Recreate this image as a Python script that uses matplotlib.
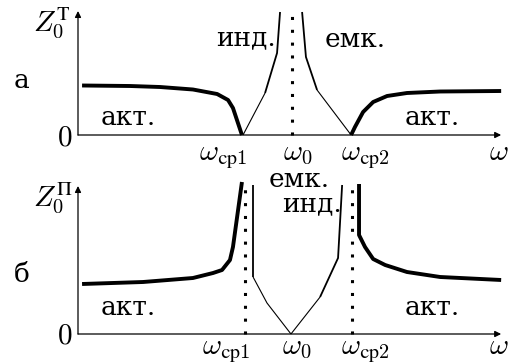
import matplotlib
matplotlib.use("Agg")
import matplotlib.pyplot as plt

plt.rcParams['mathtext.fontset'] = 'cm'
plt.rcParams['font.family'] = ['DejaVu Serif']

FS = 19
MFS = 21

# --- panel а: T-section characteristic impedance ---
t_act1_w = [0.019, 0.243, 0.383, 0.537, 0.650, 0.701, 0.724, 0.766]
t_act1_z = [0.99, 0.98, 0.96, 0.91, 0.82, 0.70, 0.54, 0.0]
t_ind_w = [0.771, 0.874, 0.930, 0.944]
t_ind_z = [0.0, 0.84, 1.64, 2.46]
t_cap_w = [1.047, 1.065, 1.117, 1.276]
t_cap_z = [2.46, 1.56, 0.90, 0.0]
t_act2_w = [1.276, 1.294, 1.332, 1.379, 1.444, 1.537, 1.692, 1.977]
t_act2_z = [0.0, 0.16, 0.46, 0.66, 0.78, 0.84, 0.87, 0.88]
t_marks = [0.766, 1.0, 1.276]

# --- panel б: П-section characteristic impedance ---
p_act1_w = [0.019, 0.304, 0.537, 0.631, 0.673, 0.710, 0.724, 0.766]
p_act1_z = [1.0, 1.04, 1.12, 1.22, 1.28, 1.48, 1.74, 3.04]
p_cap_w = [0.818, 0.818, 0.883, 0.995]
p_cap_z = [2.98, 1.14, 0.62, 0.0]
p_ind_w = [0.995, 1.131, 1.215, 1.234]
p_ind_z = [0.0, 0.74, 1.52, 2.98]
p_act2_w = [1.313, 1.313, 1.341, 1.379, 1.435, 1.537, 1.692, 1.977]
p_act2_z = [3.0, 1.98, 1.74, 1.50, 1.38, 1.24, 1.14, 1.08]
p_marks = [0.780, 0.995, 1.280]

tick_labels = [r'$\omega_{\mathrm{ср1}}$', r'$\omega_0$', r'$\omega_{\mathrm{ср2}}$']

fig = plt.figure(figsize=(5.12, 3.64), dpi=100)
ax1 = fig.add_axes([78 / 512, 229 / 364, 427 / 512, 125 / 364])
ax2 = fig.add_axes([78 / 512, 30 / 364, 427 / 512, 153 / 364])
ax1.set_xlim(0, 1.995)
ax1.set_ylim(0, 2.5)
ax2.set_xlim(0, 1.995)
ax2.set_ylim(0, 3.06)

THICK = 2.8
THIN = 0.8


def frame(ax, ytop):
    ax.set_axis_off()
    arrow = dict(arrowstyle='-|>', lw=0.9, color='k', mutation_scale=9,
                 shrinkA=0, shrinkB=0)
    ax.annotate('', xy=(1.977, 0), xytext=(0, 0), arrowprops=arrow,
                annotation_clip=False)
    ax.annotate('', xy=(0, ytop), xytext=(0, 0), arrowprops=arrow,
                annotation_clip=False)


def line(ax, w, z, lw):
    ax.plot(w, z, color='k', lw=lw, clip_on=False, solid_capstyle='butt',
            solid_joinstyle='round')


def dotted(ax, x, ytop):
    ax.plot([x, x], [0, ytop], color='k', lw=2.2, ls=(0, (1, 3.2)),
            dash_capstyle='butt', clip_on=False)


# panel а
frame(ax1, 2.48)
line(ax1, t_act1_w, t_act1_z, THICK)
line(ax1, t_ind_w[:2], t_ind_z[:2], THIN)
line(ax1, t_ind_w[1:], t_ind_z[1:], 1.3)
line(ax1, t_cap_w[:3], t_cap_z[:3], 1.3)
line(ax1, t_cap_w[2:], t_cap_z[2:], THIN)
line(ax1, t_act2_w, t_act2_z, THICK)
dotted(ax1, t_marks[1], 2.46)

# panel б
frame(ax2, 2.96)
line(ax2, p_act1_w, p_act1_z, THICK)
line(ax2, p_cap_w[:2], p_cap_z[:2], 1.3)
line(ax2, p_cap_w[1:], p_cap_z[1:], THIN)
line(ax2, p_ind_w[:2], p_ind_z[:2], THIN)
line(ax2, p_ind_w[1:], p_ind_z[1:], 1.3)
line(ax2, p_act2_w, p_act2_z, THICK)
dotted(ax2, p_marks[0], 3.0)
dotted(ax2, p_marks[2], 3.0)


def txt(ax, x, y, s, ha='center', size=FS):
    ax.text(x, y, s, fontsize=size, ha=ha, va='baseline', clip_on=False)


# labels, panel а
txt(ax1, -0.21, 2.06, r'$Z_0^{\mathrm{Т}}$', ha='left', size=MFS)
txt(ax1, -0.30, 0.94, 'а', ha='left')
txt(ax1, -0.028, -0.2, r'$0$', ha='right', size=MFS)
txt(ax1, 0.234, 0.2, 'акт.')
txt(ax1, 1.654, 0.2, 'акт.')
txt(ax1, 0.785, 1.8, 'инд.')
txt(ax1, 1.294, 1.76, 'емк.')
for x, s in zip([0.678, 1.028, 1.341], tick_labels):
    txt(ax1, x, -0.5, s, size=MFS)
txt(ax1, 1.967, -0.5, r'$\omega$', size=MFS)

# labels, panel б
txt(ax2, -0.21, 2.54, r'$Z_0^{\mathrm{П}}$', ha='left', size=MFS)
txt(ax2, -0.30, 1.04, 'б', ha='left')
txt(ax2, -0.028, -0.2, r'$0$', ha='right', size=MFS)
txt(ax2, 0.234, 0.38, 'акт.')
txt(ax2, 1.654, 0.38, 'акт.')
txt(ax2, 1.033, 2.94, 'емк.')
txt(ax2, 1.095, 2.46, 'инд.')
for x, s in zip([0.692, 1.023, 1.341], tick_labels):
    txt(ax2, x, -0.40, s, size=MFS)
txt(ax2, 1.967, -0.40, r'$\omega$', size=MFS)

fig.savefig('out.png', dpi=100)
